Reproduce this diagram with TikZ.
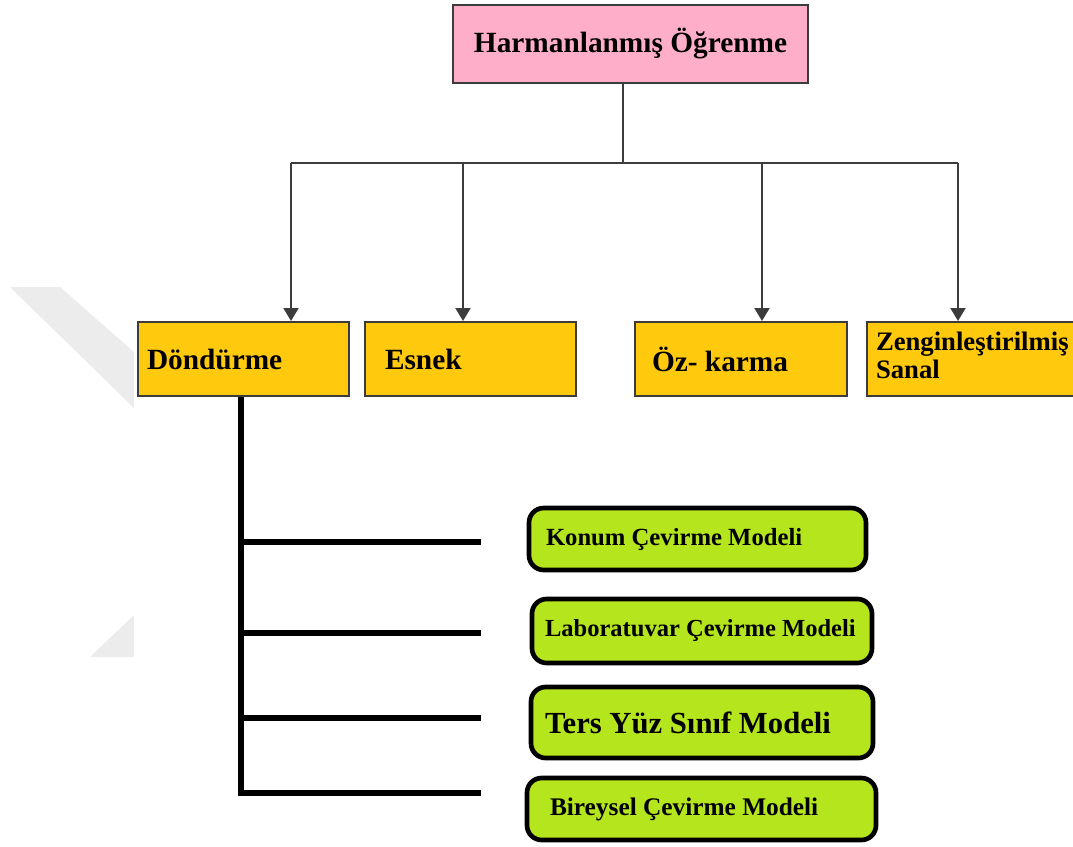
\documentclass[tikz,border=0pt]{standalone}
\usepackage{fontspec}
\setmainfont{Liberation Serif}
\usetikzlibrary{arrows.meta}
\definecolor{rose}{RGB}{255,174,201}
\definecolor{amber}{RGB}{255,201,14}
\definecolor{lime}{RGB}{181,230,29}
\definecolor{edge}{RGB}{60,60,60}
\definecolor{emblemgray}{RGB}{236,236,236}
% a fixed-width, left-aligned label line
\newcommand{\boxlabel}[2]{\makebox[#1][l]{#2}}
\tikzset{
  rootbox/.style={draw=edge, line width=1.5pt, fill=rose, rectangle,
    minimum width=266.25pt, minimum height=58.5pt, inner sep=0pt,
    font=\fontsize{22}{26}\selectfont\bfseries},
  typebox/.style={draw=edge, line width=1.5pt, fill=amber, rectangle,
    minimum height=55.5pt, inner ysep=0pt,
    font=\fontsize{22}{21}\selectfont\bfseries},
  modelbox/.style={draw=black, line width=3.5pt, fill=lime,
    rounded corners=11pt, inner ysep=0pt},
  feed/.style={draw=edge, line width=1.5pt},
  feedarrow/.style={feed, -{Triangle[length=9.75pt,width=11.25pt]}},
  trunk/.style={draw=black, line width=4.5pt},
}
\begin{document}
\begin{tikzpicture}[x=0.75pt,y=-0.75pt]
\useasboundingbox (0,0) rectangle (1073,846);
\clip (0,0) rectangle (1073,846);

% faint background emblem on the left margin
\fill[emblemgray] (10,287) -- (60,287) -- (134,352) -- (134,408) -- cycle;
\fill[emblemgray] (90,657) -- (134,615) -- (134,657) -- cycle;

% root
\node[rootbox] (root) at (630.5,44) {Harmanlanmış Öğrenme};

% second level
\node[typebox, inner xsep=6.75pt] (dond) at (243.5,359) {\boxlabel{144.75pt}{Döndürme}};
\node[typebox, inner xsep=15pt] (esnek) at (470.5,359) {\boxlabel{128.25pt}{Esnek}};
\node[typebox, inner xsep=12.75pt] (oz) at (741,359) {\boxlabel{133.5pt}{Öz- karma}};
\node[typebox, inner xsep=6.75pt,
      font=\fontsize{20}{21}\selectfont\bfseries] (zeng) at (973.5,359)
      {\boxlabel{146.25pt}{\begin{tabular}{@{}l@{}}Zenginleştirilmiş\\Sanal\end{tabular}}};

% bus from the root to the four types
\coordinate (t0) at (623,163);
\coordinate (j1) at (291,163);
\coordinate (j2) at (463,163);
\coordinate (j3) at (762,163);
\coordinate (j4) at (958,163);
\draw[feed] (root.south -| t0) -- (t0);
\draw[feed] (j1) -- (j4);
\draw[feedarrow] (j1) -- (j1 |- dond.north);
\draw[feedarrow] (j2) -- (j2 |- esnek.north);
\draw[feedarrow] (j3) -- (j3 |- oz.north);
\draw[feedarrow] (j4) -- (j4 |- zeng.north);

% rotation models
\node[modelbox, minimum height=46.5pt, inner xsep=12.75pt,
      font=\fontsize{18.5}{20}\selectfont\bfseries] (konum) at (697.5,539)
      {\boxlabel{227.25pt}{Konum Çevirme Modeli}};
\node[modelbox, minimum height=48pt, inner xsep=9.75pt,
      font=\fontsize{18.4}{20}\selectfont\bfseries] (lab) at (702,631)
      {\boxlabel{235.5pt}{Laboratuvar Çevirme Modeli}};
\node[modelbox, minimum height=53.25pt, inner xsep=10.5pt,
      font=\fontsize{23}{25}\selectfont\bfseries] (ters) at (702,722.5)
      {\boxlabel{235.5pt}{Ters Yüz Sınıf Modeli}};
\node[modelbox, minimum height=46.5pt, inner xsep=17.25pt,
      font=\fontsize{19}{21}\selectfont\bfseries] (birey) at (701.5,809)
      {\boxlabel{227.25pt}{Bireysel Çevirme Modeli}};

% trunk under Döndürme with its branches
\coordinate (b1) at (241,542);
\coordinate (b2) at (241,633);
\coordinate (b3) at (241,718);
\coordinate (b4) at (241,793);
\coordinate (e1) at (481,542);
\coordinate (e2) at (481,633);
\coordinate (e3) at (481,718);
\coordinate (e4) at (481,793);
\draw[trunk] (dond.south -| b4) -- (b4) -- (e4);
\draw[trunk] (b1) -- (e1);
\draw[trunk] (b2) -- (e2);
\draw[trunk] (b3) -- (e3);
\end{tikzpicture}
\end{document}
